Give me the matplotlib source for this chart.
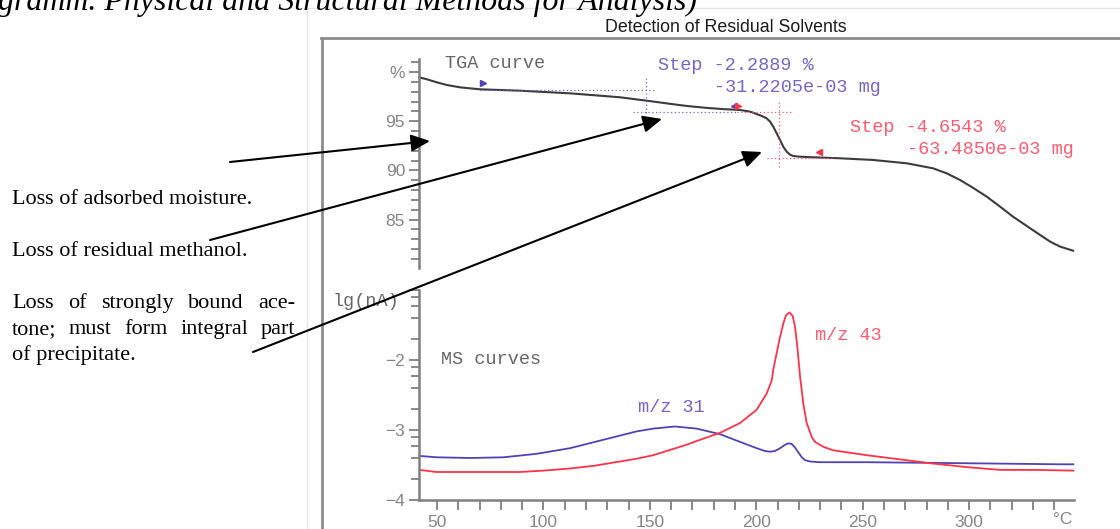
import matplotlib
matplotlib.use("Agg")
import matplotlib.pyplot as plt
from matplotlib.patches import FancyArrowPatch, ArrowStyle
from matplotlib.lines import Line2D
import numpy as np

W, H, DPI = 1120, 529, 100

# ---- TGA trace: temperature (°C) vs residual mass (%) ----
tga_temp = [41.7, 45.2, 49.9, 54.6, 60.8, 70.2, 89.0, 112.5, 136.0, 151.5,
            160.0, 167.3, 176.7, 185.0, 192.4, 197.1, 200.2, 202.6, 204.9,
            206.5, 208.0, 209.6, 211.2, 212.7, 214.3, 215.9, 217.4, 220.6,
            226.8, 239.4, 254.9, 270.7, 283.1, 289.5, 295.8, 302.0, 308.3,
            314.6, 320.7, 327.1, 333.4, 338.1, 342.8, 348.9]
tga_mass = [99.46, 99.26, 98.95, 98.68, 98.44, 98.24, 98.10, 97.83, 97.43, 97.00,
            96.75, 96.55, 96.35, 96.22, 96.14, 95.97, 95.73, 95.53, 95.29,
            94.95, 94.44, 93.77, 93.09, 92.41, 91.90, 91.60, 91.46, 91.39,
            91.33, 91.23, 91.06, 90.72, 90.21, 89.70, 89.02, 88.21, 87.33,
            86.31, 85.29, 84.35, 83.43, 82.76, 82.25, 81.84]

# ---- MS ion currents, lg(nA) ----
ms31_temp = [41.7, 49.9, 65.5, 81.2, 96.8, 112.5, 128.1, 143.8, 151.6, 161.8,
             172.0, 183.0, 192.4, 200.2, 204.1, 206.5, 208.8, 211.2, 213.6,
             215.1, 216.7, 218.2, 219.8, 221.4, 222.9, 225.3, 230.0, 251.9,
             283.2, 314.6, 342.8, 349.0]
ms31_val = [-3.37, -3.39, -3.40, -3.39, -3.34, -3.26, -3.14, -3.02, -2.98, -2.95,
            -2.98, -3.06, -3.17, -3.26, -3.30, -3.31, -3.30, -3.26, -3.21,
            -3.19, -3.20, -3.25, -3.32, -3.39, -3.43, -3.45, -3.46, -3.46,
            -3.47, -3.48, -3.49, -3.49]

ms43_temp = [41.7, 49.9, 65.5, 89.0, 100.0, 112.5, 124.0, 136.0, 143.8, 151.6,
             160.0, 167.3, 173.6, 183.0, 192.4, 200.2, 204.9, 207.3, 208.0,
             209.6, 211.2, 212.7, 214.0, 215.6, 217.1, 218.2, 219.3, 220.6,
             222.1, 223.7, 226.1, 227.6, 231.5, 236.2, 251.9, 267.6, 283.2,
             298.9, 314.6, 330.2, 349.0]
ms43_val = [-3.57, -3.60, -3.60, -3.60, -3.58, -3.55, -3.51, -3.45, -3.41, -3.36,
            -3.28, -3.21, -3.14, -3.04, -2.90, -2.71, -2.48, -2.29, -2.14,
            -1.90, -1.67, -1.48, -1.36, -1.32, -1.37, -1.52, -1.81, -2.24,
            -2.62, -2.90, -3.10, -3.17, -3.24, -3.29, -3.36, -3.42, -3.48,
            -3.53, -3.57, -3.57, -3.58]

# ---- step evaluation ----
step1_pct, step1_mg = -2.2889, "-31.2205e-03 mg"
step2_pct, step2_mg = -4.6543, "-63.4850e-03 mg"
level_a = 98.22
level_b = level_a + step1_pct
level_c = level_b + step2_pct

x_major = [50, 100, 150, 200, 250, 300]
x_minor = list(range(50, 350, 10))
tga_major = [85, 90, 95, 100]
tga_major_labels = ["85", "90", "95", "%"]
ms_major = [-4, -3, -2, -1]
ms_major_labels = ["\u22124", "\u22123", "\u22122", ""]

notes = ["Loss of adsorbed moisture.", "Loss of residual methanol."]
note3_lines = ["Loss of strongly bound ace-", "tone; must form integral part",
               "of precipitate."]

PURPLE_TXT = "#7466c8"
PURPLE_LN = "#5143b4"
RED_TXT = "#ff5a6e"
RED_LN = "#ff3348"
GRAY_TXT = "#666666"
AXIS = "#808080"
TICKLBL = "#858585"

MONO = "Liberation Mono"
SANS = "Liberation Sans"
SERIF = "Liberation Serif"

fig = plt.figure(figsize=(W / DPI, H / DPI), dpi=DPI)
fig.patch.set_facecolor("white")


def fx(px):
    return px / W


def fy(py):
    return 1 - py / H


# page frames
fig.add_artist(Line2D([fx(307), fx(307)], [fy(8), fy(540)], color="#e6e6e6", lw=1))
fig.add_artist(Line2D([fx(307), fx(1130)], [fy(8), fy(8)], color="#e6e6e6", lw=1))
fig.add_artist(Line2D([fx(322), fx(322)], [fy(38), fy(540)], color="#8c8c8c", lw=2))
fig.add_artist(Line2D([fx(321), fx(1130)], [fy(38), fy(38)], color="#8c8c8c", lw=2))

# header line of the page (cut by the top edge)
hdr = fig.text(fx(-2), fy(10), "gramm. Physical and Structural Methods for Analysis)",
               family=SERIF, style="italic", fontsize=22, ha="left", va="baseline",
               color="black")

fig.text(fx(726), fy(27), "Detection of Residual Solvents", family=SANS,
         fontsize=12.8, ha="center", va="center", color="#1a1a1a")

ax_l, ax_r = 419, 1074
t_top, t_bot = 59, 268
m_top, m_bot = 290, 500
ax_t = fig.add_axes([fx(ax_l), fy(t_bot), (ax_r - ax_l) / W, (t_bot - t_top) / H])
ax_m = fig.add_axes([fx(ax_l), fy(m_bot), (ax_r - ax_l) / W, (m_bot - m_top) / H])

xlim = (41.55, 349.3)
for ax in (ax_t, ax_m):
    ax.set_xlim(*xlim)
    ax.set_facecolor("none")
    for s in ("top", "right"):
        ax.spines[s].set_visible(False)
    ax.spines["left"].set_color(AXIS)
    ax.spines["left"].set_linewidth(1.8)
    ax.tick_params(axis="both", which="both", direction="out", color=AXIS,
                   labelcolor=TICKLBL, labelsize=12.5)
    ax.tick_params(axis="y", which="major", length=7, width=1.3, pad=3)
    ax.tick_params(axis="y", which="minor", length=6, width=1.3)

ax_t.spines["bottom"].set_visible(False)
ax_t.set_xticks([])
ax_t.set_ylim(80.08, 101.32)
ax_t.set_yticks(tga_major)
ax_t.set_yticklabels(tga_major_labels, family=SANS)
ax_t.set_yticks(range(81, 102), minor=True)

ax_m.spines["bottom"].set_color(AXIS)
ax_m.spines["bottom"].set_linewidth(1.8)
ax_m.set_ylim(-4, -1)
ax_m.set_yticks(ms_major)
ax_m.set_yticklabels(ms_major_labels, family=SANS)
ax_m.set_yticks([d + np.log10(k) for d in (-4, -3, -2) for k in (2, 4, 6, 8)],
                minor=True)
ax_m.set_xticks(x_major)
ax_m.set_xticklabels([str(v) for v in x_major], family=SANS)
ax_m.set_xticks(x_minor, minor=True)
ax_m.tick_params(axis="x", which="both", length=7, width=1.3, pad=4)

# curves
ax_t.plot(tga_temp, tga_mass, color="#3c3c3c", lw=1.5, clip_on=False,
          solid_joinstyle="round")
ax_m.plot(ms31_temp, ms31_val, color=PURPLE_LN, lw=1.3, clip_on=False,
          solid_joinstyle="round")
ax_m.plot(ms43_temp, ms43_val, color=RED_LN, lw=1.3, clip_on=False,
          solid_joinstyle="round")

# step evaluation guides
dot = dict(lw=0.9, linestyle=(0, (1, 2)), clip_on=False)
ax_t.plot([70.2, 152.4], [level_a, level_a], color=PURPLE_TXT, **dot)
ax_t.plot([148.2, 148.2], [level_a + 1.2, level_b - 0.25], color=PURPLE_TXT, **dot)
ax_t.plot([142.0, 191.0], [level_b, level_b], color=PURPLE_TXT, **dot)
ax_t.plot([191.0, 217.0], [level_b, level_b], color=RED_TXT, **dot)
ax_t.plot([210.7, 210.7], [level_b + 1.05, level_c - 1.0], color=RED_TXT, **dot)
ax_t.plot([205.0, 236.0], [level_c, level_c], color=RED_TXT, **dot)

mk = dict(ms=4.5, clip_on=False, linestyle="none")
ax_t.plot([71.6], [level_a + 0.62], marker=">", color=PURPLE_LN, **mk)
ax_t.plot([189.6], [level_b + 0.62], marker="<", color=PURPLE_LN, **mk)
ax_t.plot([191.4], [level_b + 0.62], marker=">", color=RED_LN, **mk)
ax_t.plot([229.5], [level_c + 0.62], marker="<", color=RED_LN, **mk)

# chart annotations
mono = dict(family=MONO, fontsize=13.3, ha="left", va="center")
fig.text(fx(445), fy(63), "TGA curve", color=GRAY_TXT, **mono)
fig.text(fx(658), fy(66), f"Step {step1_pct:.4f} %", color=PURPLE_TXT, **mono)
fig.text(fx(714), fy(88), step1_mg, color=PURPLE_TXT, **mono)
fig.text(fx(850), fy(127), f"Step {step2_pct:.4f} %", color=RED_TXT, **mono)
fig.text(fx(907), fy(150), step2_mg, color=RED_TXT, **mono)
fig.text(fx(441), fy(359), "MS curves", color=GRAY_TXT, **mono)
fig.text(fx(638), fy(407), "m/z 31", color=PURPLE_TXT, **mono)
fig.text(fx(815), fy(335), "m/z 43", color=RED_TXT, **mono)
fig.text(fx(333), fy(302), "lg(nA)", color=GRAY_TXT, **mono)
fig.text(fx(1053), fy(519), "\u00b0C", family=SANS, fontsize=12.5, ha="left",
         va="center", color=TICKLBL)

# left-hand notes
serif = dict(family=SERIF, fontsize=16, ha="left", va="baseline", color="black")
fig.text(fx(12), fy(204), notes[0], **serif)
fig.text(fx(12), fy(256), notes[1], **serif)

fig.canvas.draw()
rend = fig.canvas.get_renderer()

# fit header to its line width
bb = hdr.get_window_extent(rend)
hdr.set_fontsize(22 * (697 / bb.width))


def justify(line, x0, x1, base):
    words = line.split()
    objs = [fig.text(0, 0, w, **serif) for w in words]
    widths = [o.get_window_extent(rend).width for o in objs]
    gap = (x1 - x0 - sum(widths)) / (len(words) - 1)
    x = x0
    for o, w in zip(objs, widths):
        o.set_position((fx(x), fy(base)))
        x += w + gap


justify(note3_lines[0], 12, 295, 308)
justify(note3_lines[1], 12, 295, 334)
fig.text(fx(12), fy(360), note3_lines[2], **serif)

# pointer arrows
astyle = ArrowStyle("-|>", head_length=1.0, head_width=0.45)
for tail, tip in [((230, 162), (430, 141)),
                  ((210, 240), (662, 119)),
                  ((253, 352), (762, 152))]:
    arr = FancyArrowPatch((tail[0], H - tail[1]), (tip[0], H - tip[1]),
                          transform=None, arrowstyle=astyle, mutation_scale=11.5,
                          color="black", lw=1.5, shrinkA=0, shrinkB=0, zorder=5)
    fig.add_artist(arr)

fig.savefig("out.png", dpi=DPI, facecolor="white")
